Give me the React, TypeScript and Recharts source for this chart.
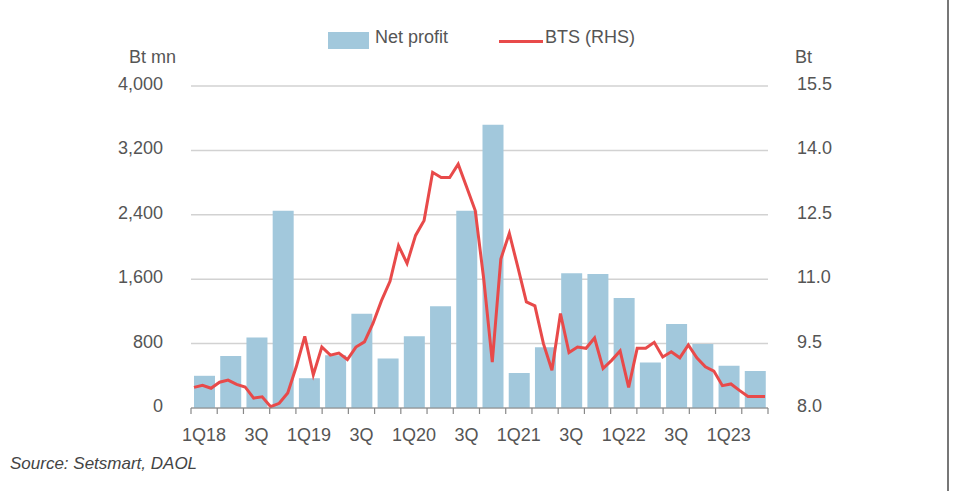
import * as React from 'react';
import { ComposedChart, Bar, Line, XAxis, YAxis, CartesianGrid } from 'recharts';

// quarterly net profit (Bt mn), left axis
const quarters = [
  '1Q18', '2Q', '3Q', '4Q',
  '1Q19', '2Q', '3Q', '4Q',
  '1Q20', '2Q', '3Q', '4Q',
  '1Q21', '2Q', '3Q', '4Q',
  '1Q22', '2Q', '3Q', '4Q',
  '1Q23', '2Q',
];
const netProfit = [
  400, 645, 875, 2450,
  370, 655, 1170, 615,
  890, 1265, 2450, 3520,
  435, 755, 1675, 1665,
  1365, 565, 1045, 795,
  525, 460,
];

// monthly BTS share price (Bt), right axis
const btsPrice = [
  8.48, 8.53, 8.46, 8.6, 8.65, 8.55, 8.49, 8.23, 8.26, 8.03, 8.11, 8.35,
  8.96, 9.67, 8.77, 9.42, 9.23, 9.28, 9.13, 9.42, 9.54, 9.97, 10.5, 10.95,
  11.78, 11.37, 12.02, 12.37, 13.49, 13.37, 13.37, 13.68, 13.14, 12.6, 11.0, 9.07,
  11.47, 12.07, 11.28, 10.47, 10.38, 9.5, 8.88, 10.2, 9.29, 9.42, 9.39, 9.63,
  8.92, 9.11, 9.33, 8.48, 9.39, 9.39, 9.53, 9.19, 9.31, 9.17, 9.47, 9.17,
  8.96, 8.86, 8.52, 8.56, 8.41, 8.27, 8.27, 8.27,
];

const leftTicks = [0, 800, 1600, 2400, 3200, 4000];
const rightTicks = [8, 9.5, 11, 12.5, 14, 15.5];

const barData = quarters.map((q, i) => ({ q, np: netProfit[i] }));
const lineData = btsPrice.map((v, i) => ({ m: i, bts: v }));

const FONT = '"Liberation Sans", Arial, sans-serif';
const TEXT = '#555';
const AXIS = '#888';
const BAR = '#a2c8dc';
const RED = '#e84a4a';

function QuarterTick(props: any) {
  const { x, y, payload, index } = props;
  const half = payload && payload.offset ? payload.offset : 13.1;
  const i = index ?? payload.index;
  return (
    <g>
      <line x1={x - half} x2={x - half} y1={y} y2={y + 6} stroke={AXIS} strokeWidth={1.2} />
      {i === quarters.length - 1 && (
        <line x1={x + half} x2={x + half} y1={y} y2={y + 6} stroke={AXIS} strokeWidth={1.2} />
      )}
      {i % 2 === 0 && (
        <text x={x} y={y + 33} textAnchor="middle" fill={TEXT} fontSize={18} fontFamily={FONT}>
          {payload.value}
        </text>
      )}
    </g>
  );
}

function LeftTick(props: any) {
  const { x, y, payload } = props;
  return (
    <text x={x} y={y + 4} textAnchor="end" fill={TEXT} fontSize={18} fontFamily={FONT}>
      {Number(payload.value).toLocaleString('en-US')}
    </text>
  );
}

function RightTick(props: any) {
  const { x, y, payload } = props;
  return (
    <text x={x} y={y + 4} textAnchor="start" fill={TEXT} fontSize={18} fontFamily={FONT}>
      {Number(payload.value).toFixed(1)}
    </text>
  );
}

export default function App() {
  return (
    <div style={{ position: 'relative', width: 958, height: 491, background: '#fff', fontFamily: FONT, color: TEXT }}>
      <style>{'body{margin:0}'}</style>

      {/* legend */}
      <div style={{ position: 'absolute', left: 328, top: 32, width: 41, height: 17, background: BAR }} />
      <div style={{ position: 'absolute', left: 375, top: 28, fontSize: 18, lineHeight: '18px' }}>Net profit</div>
      <div style={{ position: 'absolute', left: 499, top: 40, width: 44, height: 3, background: RED }} />
      <div style={{ position: 'absolute', left: 545, top: 28, fontSize: 18, lineHeight: '18px' }}>BTS (RHS)</div>

      {/* axis units */}
      <div style={{ position: 'absolute', left: 129, top: 48, fontSize: 18, lineHeight: '18px' }}>Bt mn</div>
      <div style={{ position: 'absolute', left: 795, top: 48, fontSize: 18, lineHeight: '18px' }}>Bt</div>

      <ComposedChart
        width={958}
        height={491}
        data={barData}
        margin={{ top: 86, right: 0, bottom: 43, left: 0 }}
        barCategoryGap={0}
      >
        <CartesianGrid yAxisId="left" xAxisId="q" vertical={false} stroke="#d2d2d2" strokeWidth={1.5} />
        <XAxis xAxisId="m" dataKey="m" type="number" domain={[-0.35, 67.35]} height={0} hide />
        <XAxis
          xAxisId="q"
          dataKey="q"
          type="category"
          interval={0}
          height={40}
          tickSize={0}
          tickMargin={0}
          tickLine={false}
          axisLine={{ stroke: AXIS, strokeWidth: 1.2 }}
          tick={<QuarterTick />}
        />
        <YAxis
          yAxisId="left"
          width={191}
          domain={[0, 4000]}
          ticks={leftTicks}
          tickSize={0}
          tickMargin={28}
          axisLine={false}
          tickLine={false}
          tick={<LeftTick />}
        />
        <YAxis
          yAxisId="right"
          orientation="right"
          width={190}
          domain={[8, 15.5]}
          ticks={rightTicks}
          tickSize={0}
          tickMargin={29}
          axisLine={false}
          tickLine={false}
          tick={<RightTick />}
        />
        <Bar xAxisId="q" yAxisId="left" dataKey="np" fill={BAR} barSize={21} isAnimationActive={false} />
        <Line
          xAxisId="m"
          yAxisId="right"
          data={lineData}
          dataKey="bts"
          type="linear"
          stroke={RED}
          strokeWidth={3}
          dot={false}
          isAnimationActive={false}
        />
      </ComposedChart>

      <div style={{ position: 'absolute', left: 10, top: 455, fontSize: 17, lineHeight: '18px', fontStyle: 'italic', color: '#444' }}>
        Source: Setsmart, DAOL
      </div>

      <div style={{ position: 'absolute', left: 947, top: 0, width: 2, height: 491, background: '#777' }} />
    </div>
  );
}
